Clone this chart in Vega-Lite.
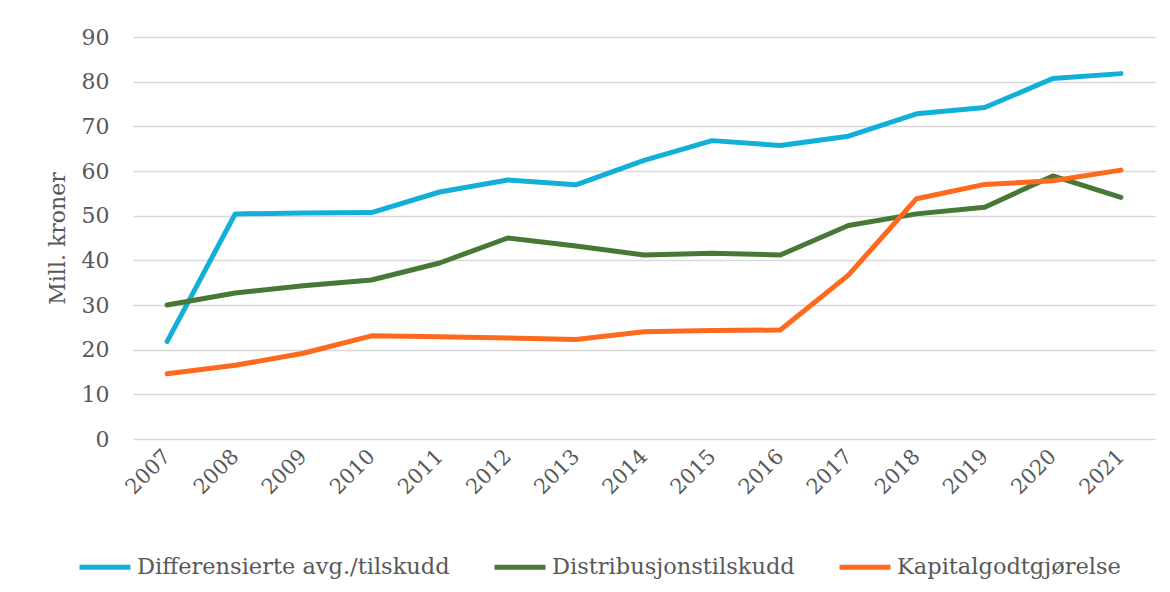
{
  "$schema": "https://vega.github.io/schema/vega-lite/v6.json",
  "autosize": "none",
  "width": 1022,
  "height": 402,
  "padding": {"left": 133, "top": 37, "right": 15, "bottom": 153},
  "background": "white",
  "config": {
    "font": "DejaVu Serif",
    "view": {"stroke": null},
    "axis": {"labelColor": "#595959", "titleColor": "#595959", "labelFont": "DejaVu Serif", "titleFont": "DejaVu Serif"}
  },
  "data": {
    "values": [
      {"year": "2007", "series": "Differensierte avg./tilskudd", "value": 21.8},
      {"year": "2008", "series": "Differensierte avg./tilskudd", "value": 50.4},
      {"year": "2009", "series": "Differensierte avg./tilskudd", "value": 50.6},
      {"year": "2010", "series": "Differensierte avg./tilskudd", "value": 50.7},
      {"year": "2011", "series": "Differensierte avg./tilskudd", "value": 55.3},
      {"year": "2012", "series": "Differensierte avg./tilskudd", "value": 58.0},
      {"year": "2013", "series": "Differensierte avg./tilskudd", "value": 56.9},
      {"year": "2014", "series": "Differensierte avg./tilskudd", "value": 62.4},
      {"year": "2015", "series": "Differensierte avg./tilskudd", "value": 66.8},
      {"year": "2016", "series": "Differensierte avg./tilskudd", "value": 65.7},
      {"year": "2017", "series": "Differensierte avg./tilskudd", "value": 67.8},
      {"year": "2018", "series": "Differensierte avg./tilskudd", "value": 72.8},
      {"year": "2019", "series": "Differensierte avg./tilskudd", "value": 74.2},
      {"year": "2020", "series": "Differensierte avg./tilskudd", "value": 80.7},
      {"year": "2021", "series": "Differensierte avg./tilskudd", "value": 81.8},
      {"year": "2007", "series": "Distribusjonstilskudd", "value": 30.0},
      {"year": "2008", "series": "Distribusjonstilskudd", "value": 32.7},
      {"year": "2009", "series": "Distribusjonstilskudd", "value": 34.3},
      {"year": "2010", "series": "Distribusjonstilskudd", "value": 35.6},
      {"year": "2011", "series": "Distribusjonstilskudd", "value": 39.4},
      {"year": "2012", "series": "Distribusjonstilskudd", "value": 45.0},
      {"year": "2013", "series": "Distribusjonstilskudd", "value": 43.2},
      {"year": "2014", "series": "Distribusjonstilskudd", "value": 41.2},
      {"year": "2015", "series": "Distribusjonstilskudd", "value": 41.6},
      {"year": "2016", "series": "Distribusjonstilskudd", "value": 41.2},
      {"year": "2017", "series": "Distribusjonstilskudd", "value": 47.8},
      {"year": "2018", "series": "Distribusjonstilskudd", "value": 50.4},
      {"year": "2019", "series": "Distribusjonstilskudd", "value": 51.9},
      {"year": "2020", "series": "Distribusjonstilskudd", "value": 58.9},
      {"year": "2021", "series": "Distribusjonstilskudd", "value": 54.1},
      {"year": "2007", "series": "Kapitalgodtgjørelse", "value": 14.6},
      {"year": "2008", "series": "Kapitalgodtgjørelse", "value": 16.5},
      {"year": "2009", "series": "Kapitalgodtgjørelse", "value": 19.2},
      {"year": "2010", "series": "Kapitalgodtgjørelse", "value": 23.1},
      {"year": "2011", "series": "Kapitalgodtgjørelse", "value": 22.9},
      {"year": "2012", "series": "Kapitalgodtgjørelse", "value": 22.6},
      {"year": "2013", "series": "Kapitalgodtgjørelse", "value": 22.3},
      {"year": "2014", "series": "Kapitalgodtgjørelse", "value": 24.0},
      {"year": "2015", "series": "Kapitalgodtgjørelse", "value": 24.3},
      {"year": "2016", "series": "Kapitalgodtgjørelse", "value": 24.4},
      {"year": "2017", "series": "Kapitalgodtgjørelse", "value": 36.7},
      {"year": "2018", "series": "Kapitalgodtgjørelse", "value": 53.8},
      {"year": "2019", "series": "Kapitalgodtgjørelse", "value": 57.0},
      {"year": "2020", "series": "Kapitalgodtgjørelse", "value": 57.8},
      {"year": "2021", "series": "Kapitalgodtgjørelse", "value": 60.2}
    ]
  },
  "mark": {"type": "line", "strokeWidth": 5, "strokeCap": "round", "strokeJoin": "round"},
  "encoding": {
    "x": {
      "field": "year", "type": "ordinal",
      "scale": {"type": "point", "padding": 0.5},
      "axis": {"title": null, "labelAngle": -45, "labelAlign": "right", "labelBaseline": "middle", "labelFontSize": 21, "labelPadding": 14, "ticks": false, "domain": false, "grid": false}
    },
    "y": {
      "field": "value", "type": "quantitative",
      "scale": {"domain": [0, 90], "nice": false},
      "axis": {"title": "Mill. kroner", "titleFontSize": 22, "titleFontWeight": "normal", "titlePadding": 12, "values": [0,10,20,30,40,50,60,70,80,90], "labelFontSize": 22, "labelPadding": 24, "ticks": false, "domain": false, "gridColor": "#d9d9d9", "gridWidth": 1.5}
    },
    "color": {
      "field": "series", "type": "nominal",
      "scale": {"domain": ["Differensierte avg./tilskudd", "Distribusjonstilskudd", "Kapitalgodtgjørelse"], "range": ["#12b0d9", "#477836", "#fd6a1e"]},
      "legend": {"title": null, "orient": "none", "legendX": -56, "legendY": 502, "direction": "horizontal", "symbolType": "stroke", "symbolSize": 2600, "symbolStrokeWidth": 5, "labelFontSize": 22.5, "labelColor": "#595959", "labelFont": "DejaVu Serif", "labelOffset": 4, "columnPadding": 34, "labelLimit": 450}
    }
  }
}
